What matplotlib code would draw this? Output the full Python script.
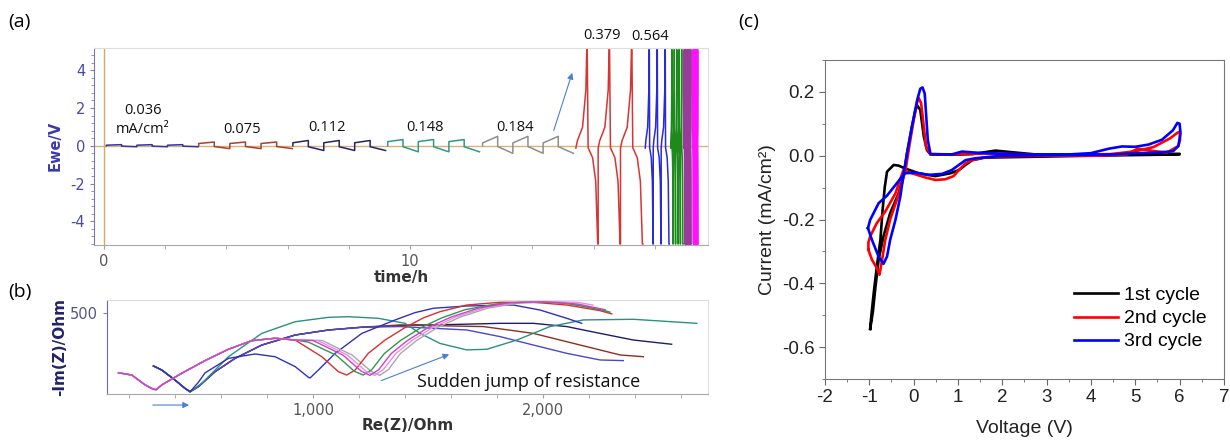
import matplotlib.pyplot as plt
from matplotlib.ticker import MultipleLocator, FixedLocator, StrMethodFormatter

plt.rcParams['axes.unicode_minus'] = False
plt.rcParams['font.family'] = 'DejaVu Sans'

# ---------------- (a) galvanostatic steps ----------------
low_labels = ["0.036", "0.075", "0.112", "0.148", "0.184"]
low_start = [0.07, 3.09, 6.17, 9.27, 12.37]
low_period = [1.0, 1.02, 1.01, 1.0, 0.99]
low_up1 = [0.03, 0.12, 0.16, 0.22, 0.15]
low_up2 = [0.06, 0.20, 0.28, 0.33, 0.50]
low_dn1 = [-0.02, -0.04, -0.05, -0.05, -0.04]
low_dn2 = [-0.05, -0.15, -0.25, -0.32, -0.40]
low_colors = ["#34349a", "#a8402c", "#25256a", "#2f9a86", "#8e8e8e"]

# one high-current cycle, phase of period vs voltage
spike_phase = [0.00, 0.07, 0.30, 0.45, 0.49, 0.51, 0.55, 0.75, 0.89, 0.98, 1.00]
spike_volt = [-0.12, 0.27, 0.98, 2.96, 5.1, 5.1, -0.1, -0.63, -1.88, -5.2, -5.2]
high_labels = ["0.379", "0.564"]
high_start = [15.42, 17.69, 18.52, 18.95, 19.24]
high_period = [0.73, 0.26, 0.08, 0.03, 0.025]
high_cycles = [3, 3, 5, 8, 7]
high_colors = ["#d83434", "#2a2ad6", "#1e8a1e", "#9a3a9a", "#ff10ff"]

# ---------------- (b) Nyquist ----------------
frontA_re = [154, 212, 270, 306, 318, 342, 429, 530, 632, 733, 835, 922]
frontA_im = [131, 117, 56, 29, 27, 56, 128, 206, 276, 329, 344, 333]
frontB_re = [306, 342, 400, 443, 465]
frontB_im = [173, 148, 86, 35, 14]
riseB_re = [501, 574, 661, 777, 922, 1067, 1212]
riseB_im = [45, 138, 220, 302, 364, 395, 412]

red_re = [1038, 1110, 1146, 1183, 1240, 1313, 1400, 1480, 1552, 1668, 1813, 1957, 2103, 2248, 2299]
red_im = [230, 138, 117, 148, 251, 333, 410, 470, 508, 549, 566, 566, 549, 514, 494]
green_re = [980, 1100, 1180, 1218, 1255, 1310, 1380, 1470, 1560, 1660, 1800, 1950, 2100, 2250, 2290]
green_im = [320, 240, 140, 117, 150, 250, 330, 410, 470, 520, 556, 570, 560, 520, 505]
magenta_re = [1000, 1130, 1210, 1247, 1285, 1340, 1410, 1500, 1600, 1720, 1850, 2000, 2150, 2270]
magenta_im = [330, 240, 140, 115, 150, 250, 330, 410, 475, 530, 562, 570, 555, 520]
pink_re = [1020, 1150, 1230, 1268, 1305, 1360, 1430, 1520, 1620, 1740, 1870, 2020, 2150, 2217]
pink_im = [330, 240, 140, 115, 150, 250, 330, 410, 475, 530, 562, 572, 565, 549]
gray_re = [1040, 1170, 1252, 1290, 1327, 1380, 1450, 1540, 1640, 1760, 1890, 2040, 2180, 2290]
gray_im = [330, 240, 140, 115, 150, 250, 330, 410, 475, 530, 560, 568, 545, 505]

navy_re = [1443, 1523, 1813, 1958, 2103, 2248, 2393, 2559]
navy_im = [426, 426, 436, 436, 416, 374, 333, 307]
brown_re = [1378, 1741, 1958, 2190, 2335, 2436]
brown_im = [426, 416, 374, 292, 241, 230]
blue2_re = [1378, 1668, 1813, 1958, 2103, 2248, 2349]
blue2_im = [416, 395, 354, 302, 251, 210, 206]
teal_re = [516, 632, 777, 922, 1067, 1153, 1284, 1400, 1465, 1552, 1668, 1755, 1886, 2030, 2175, 2393, 2668]
teal_im = [66, 230, 374, 446, 473, 477, 467, 436, 374, 312, 272, 276, 333, 416, 457, 461, 436]
blue_re = [500, 530, 632, 748, 835, 922, 980, 987, 1023, 1096, 1212, 1357, 1443, 1523, 1668, 1871, 1987, 2103, 2168]
blue_im = [70, 130, 220, 247, 230, 169, 103, 99, 148, 251, 374, 457, 502, 529, 543, 549, 518, 467, 436]

# ---------------- (c) cyclic voltammetry ----------------
c1_v = [-0.98, -0.92, -0.86, -0.79, -0.68, -0.53, -0.34, -0.22, -0.15, -0.04, 0.04, 0.08, 0.15, 0.23,
        0.30, 0.38, 0.86, 1.32, 1.84, 2.37, 2.82, 4.0, 5.0, 6.0, 6.0, 5.0, 4.0, 2.82, 1.60, 1.32, 1.17,
        1.02, 0.83, 0.49, 0.11, -0.19, -0.34, -0.45, -0.60, -0.65, -0.70, -0.75, -0.83, -0.90, -0.96, -0.98]
c1_i = [-0.543, -0.49, -0.41, -0.326, -0.253, -0.18, -0.118, -0.06, 0.007, 0.09, 0.143, 0.158, 0.143, 0.06,
        0.018, 0.004, 0.003, 0.005, 0.016, 0.009, 0.003, 0.003, 0.004, 0.006, 0.004, 0.002, 0.0, -0.003,
        -0.006, -0.014, -0.029, -0.045, -0.055, -0.064, -0.055, -0.04, -0.031, -0.029, -0.05, -0.097,
        -0.17, -0.264, -0.347, -0.43, -0.51, -0.543]
c2_v = [-1.02, -0.94, -0.83, -0.77, -0.71, -0.64, -0.53, -0.38, -0.26, -0.17, -0.10, 0.0, 0.08, 0.11,
        0.17, 0.23, 0.28, 0.38, 0.86, 1.62, 2.37, 3.5, 4.43, 4.96, 5.41, 5.79, 5.95, 6.0, 6.01, 5.97,
        5.71, 5.4, 5.05, 4.81, 4.2, 3.0, 2.0, 1.6, 1.3, 1.17, 1.02, 0.90, 0.71, 0.49, 0.26, -0.04, -0.23,
        -0.41, -0.64, -0.83, -0.98, -1.02, -1.02]
c2_i = [-0.295, -0.326, -0.352, -0.373, -0.326, -0.264, -0.2, -0.139, -0.086, -0.034, 0.028, 0.111,
        0.169, 0.182, 0.164, 0.09, 0.028, 0.005, 0.004, 0.007, 0.005, 0.003, 0.005, 0.013, 0.027, 0.055,
        0.072, 0.075, 0.05, 0.03, 0.010, 0.015, 0.022, 0.004, 0.0, 0.0, -0.002, -0.005, -0.015, -0.024,
        -0.045, -0.064, -0.074, -0.076, -0.068, -0.055, -0.045, -0.118, -0.175, -0.211, -0.253, -0.272,
        -0.295]
c3_v = [-1.03, -0.94, -0.79, -0.68, -0.60, -0.53, -0.41, -0.30, -0.23, -0.15, -0.04, 0.08, 0.15, 0.20,
        0.25, 0.28, 0.32, 0.38, 0.86, 1.09, 1.47, 2.5, 3.5, 4.0, 4.4, 4.7, 5.0, 5.3, 5.6, 5.85, 5.95, 6.0,
        6.02, 5.97, 5.85, 5.5, 5.0, 4.5, 4.0, 3.0, 2.0, 1.39, 1.17, 1.02, 0.86, 0.64, 0.34, 0.04, -0.19,
        -0.23, -0.4, -0.6, -0.79, -0.98, -1.03]
c3_i = [-0.227, -0.264, -0.316, -0.339, -0.316, -0.264, -0.201, -0.128, -0.06, 0.007, 0.09, 0.174, 0.21,
        0.214, 0.195, 0.132, 0.049, 0.005, 0.004, 0.013, 0.009, 0.004, 0.004, 0.008, 0.022, 0.029, 0.028,
        0.035, 0.05, 0.08, 0.103, 0.1, 0.07, 0.03, 0.014, 0.01, 0.008, 0.004, 0.003, 0.002, 0.0, -0.008,
        -0.014, -0.029, -0.045, -0.057, -0.06, -0.053, -0.055, -0.06, -0.09, -0.125, -0.149, -0.201, -0.227]
cycle_labels = ["1st cycle", "2nd cycle", "3rd cycle"]
cycle_colors = ["black", "#ff0000", "#0000ff"]

fig = plt.figure(figsize=(12.3, 4.4), dpi=100)

# ---- panel (a) ----
ax = fig.add_axes([0.0767, 0.4432, 0.4989, 0.4484])
ax.axvline(0, color="#d9a860", lw=1.0)
ax.axhline(0, color="#d9b27a", lw=1.0)
for s, p, u1, u2, d1, d2, c in zip(low_start, low_period, low_up1, low_up2, low_dn1, low_dn2, low_colors):
    t, v = [s], [0.0]
    for k in range(3):
        t0 = s + k * p
        t += [t0, t0 + p / 2, t0 + p / 2, t0 + p]
        v += [u1, u2, d1, d2]
    ax.plot(t, v, color=c, lw=1.1)
for s, p, n, c in zip(high_start, high_period, high_cycles, high_colors):
    t, v = [], []
    for k in range(n):
        t += [s + (k + f) * p for f in spike_phase]
        v += spike_volt
    ax.plot(t, v, color=c, lw=1.1)
ax.set_xlim(-0.32, 19.74)
ax.set_ylim(-5.25, 5.19)
ax.xaxis.set_major_locator(MultipleLocator(10))
ax.xaxis.set_minor_locator(MultipleLocator(2))
ax.yaxis.set_major_locator(MultipleLocator(2))
ax.yaxis.set_minor_locator(MultipleLocator(0.4))
ax.tick_params(axis="y", which="both", colors="#8080b0", labelcolor="#4848a8", labelsize=10.5, length=3)
ax.tick_params(axis="y", which="minor", length=2)
ax.tick_params(axis="x", which="both", colors="#a0a0a0", labelcolor="#555555", labelsize=10.5, length=3)
ax.spines["left"].set_color("#7878b0")
ax.spines["bottom"].set_color("#a8a8a8")
ax.spines["top"].set_color("#dddddd")
ax.spines["right"].set_color("#dddddd")
ax.set_ylabel("Ewe/V", color="#3a3ab0", fontweight="bold", fontsize=10.5, labelpad=6)
ax.set_xlabel("time/h", color="#333333", fontweight="bold", fontsize=11, labelpad=1)
lab = dict(fontsize=10.5, family="Open Sans", ha="center", va="center", color="#111111")
ax.text(1.27, 1.89, "0.036", **lab)
ax.text(1.27, 0.88, "mA/cm²", **lab)
for x, y, s in zip([4.5, 7.29, 10.49, 13.43], [0.88, 0.99, 0.99, 0.99], low_labels[1:]):
    ax.text(x, y, s, **lab)
ax.text(16.26, 5.86, high_labels[0], **lab)
ax.text(17.85, 5.80, high_labels[1], **lab)
ax.annotate("", xy=(15.33, 4.0), xytext=(14.67, 0.67),
            arrowprops=dict(arrowstyle="-|>", color="#4a80d4", lw=0.8, mutation_scale=9))

# ---- panel (b) ----
bx = fig.add_axes([0.087, 0.1045, 0.4886, 0.2137])
nyq = [
    (frontB_re + riseB_re + navy_re, frontB_im + riseB_im + navy_im, "#1c1c70"),
    (frontB_re + riseB_re + brown_re, frontB_im + riseB_im + brown_im, "#8a3020"),
    (frontB_re + riseB_re + blue2_re, frontB_im + riseB_im + blue2_im, "#4848d0"),
    (frontB_re + teal_re, frontB_im + teal_im, "#2a9080"),
    (frontB_re + blue_re, frontB_im + blue_im, "#3030c0"),
    (frontA_re + gray_re, frontA_im + gray_im, "#a8a8a8"),
    (frontA_re + red_re, frontA_im + red_im, "#d83030"),
    (frontA_re + green_re, frontA_im + green_im, "#2e9a48"),
    (frontA_re + pink_re, frontA_im + pink_im, "#e890e0"),
    (frontA_re + magenta_re, frontA_im + magenta_im, "#d040d0"),
]
for xs, ys, c in nyq:
    bx.plot(xs, ys, color=c, lw=1.0)
bx.set_xlim(104, 2717)
bx.set_ylim(0, 580)
bx.xaxis.set_major_locator(FixedLocator([1000, 2000]))
bx.xaxis.set_major_formatter(StrMethodFormatter("{x:,.0f}"))
bx.xaxis.set_minor_locator(MultipleLocator(200))
bx.yaxis.set_major_locator(FixedLocator([500]))
bx.tick_params(axis="x", which="both", colors="#a0a0a0", labelcolor="#555555", labelsize=10.5, length=3)
bx.tick_params(axis="y", colors="#8080b0", labelcolor="#555580", labelsize=10.5, length=3)
bx.spines["left"].set_color("#6a6aa0")
bx.spines["bottom"].set_color("#a8a8a8")
bx.spines["top"].set_color("#dddddd")
bx.spines["right"].set_color("#dddddd")
bx.set_ylabel("-Im(Z)/Ohm", color="#22226a", fontweight="bold", fontsize=11, labelpad=2)
bx.set_xlabel("Re(Z)/Ohm", color="#333333", fontweight="bold", fontsize=11, labelpad=0)
bx.annotate("", xy=(473, -68), xytext=(291, -68), annotation_clip=False,
            arrowprops=dict(arrowstyle="-|>", color="#4a80d4", lw=0.8, mutation_scale=9))
bx.annotate("", xy=(1603, 251), xytext=(1284, 76),
            arrowprops=dict(arrowstyle="-|>", color="#4a80d4", lw=0.8, mutation_scale=9))
bx.text(1451, 72, "Sudden jump of resistance", family="Open Sans", fontsize=13, va="center", color="#111111")

# ---- panel (c) ----
cx = fig.add_axes([0.6707, 0.1386, 0.3244, 0.725])
for v, i, c, l in zip([c1_v, c2_v, c3_v], [c1_i, c2_i, c3_i], cycle_colors, cycle_labels):
    cx.plot(v, i, color=c, lw=1.9, label=l)
cx.set_xlim(-2, 7)
cx.set_ylim(-0.7, 0.3)
cx.xaxis.set_major_locator(MultipleLocator(1))
cx.xaxis.set_minor_locator(MultipleLocator(0.5))
cx.yaxis.set_major_locator(MultipleLocator(0.2))
cx.yaxis.set_minor_locator(MultipleLocator(0.1))
cx.yaxis.set_major_formatter(StrMethodFormatter("{x:.1f}"))
cx.tick_params(which="both", colors="#666666", labelcolor="#222222", labelsize=13.5)
cx.tick_params(which="major", length=4)
cx.tick_params(which="minor", length=2.5)
for sp in cx.spines.values():
    sp.set_color("#777777")
for t in cx.get_xticklabels() + cx.get_yticklabels():
    t.set_family("Liberation Sans")
cx.set_xlabel("Voltage (V)", family="Liberation Sans", fontsize=14, color="#222222", labelpad=10)
cx.set_ylabel("Current (mA/cm²)", family="Liberation Sans", fontsize=14, color="#222222", labelpad=4)
cx.legend(loc="upper left", bbox_to_anchor=(0.599, 0.32), frameon=False, borderpad=0,
          handlelength=2.3, handletextpad=0.3, labelspacing=0.28,
          prop=dict(family="Liberation Sans", size=14))

for x, y, s in [(8, 22, "(a)"), (8, 292, "(b)"), (738, 22, "(c)")]:
    fig.text(x / 1230, 1 - y / 440, s, family="Open Sans", fontsize=14, va="center", ha="left")

fig.savefig("out.png", dpi=100)
